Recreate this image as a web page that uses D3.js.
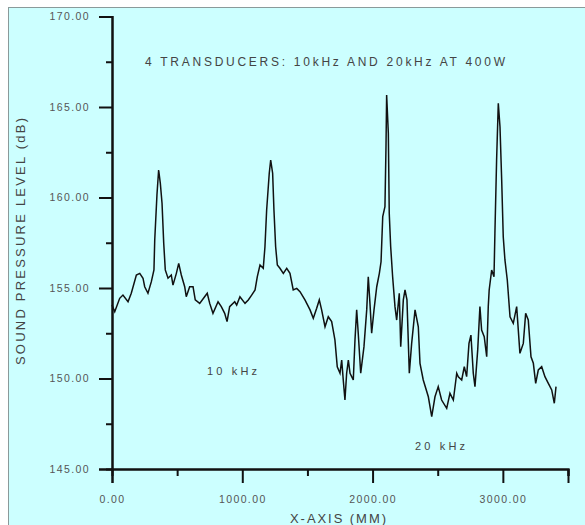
<!DOCTYPE html>
<html>
<head>
<meta charset="utf-8">
<script src="https://cdn.jsdelivr.net/npm/d3@7"></script>
<style>
  body { margin: 0; background: #fff; overflow: hidden; }
  svg { display: block; }
  text { font-family: "Liberation Sans", Arial, sans-serif; }
</style>
</head>
<body>
<div class="container"></div>
<script>
let width = 585
let height = 525
let margin = { left: 112, right: 17, top: 16.5, bottom: 56 }

// position along the x axis (mm)
const xPos = [0, 21, 59, 84, 123, 148, 187, 213, 238, 251, 276, 302, 322, 328, 345, 358, 371, 384, 397, 409,
  430, 455, 468, 494, 512, 532, 558, 570, 596, 622, 639, 673, 711, 731, 750, 775, 814, 839, 865, 883,
  903, 942, 957, 982, 1021, 1046, 1072, 1098, 1115, 1136, 1161, 1174, 1187, 1207, 1218, 1233, 1243, 1256, 1269, 1289,
  1315, 1341, 1366, 1391, 1418, 1443, 1481, 1520, 1545, 1571, 1591, 1609, 1635, 1660, 1686, 1711, 1729, 1750, 1763, 1775,
  1788, 1801, 1814, 1827, 1852, 1865, 1878, 1890, 1909, 1934, 1955, 1967, 1980, 1993, 2011, 2032, 2052, 2065, 2078, 2095,
  2103, 2108, 2121, 2128, 2139, 2154, 2172, 2185, 2205, 2216, 2236, 2249, 2264, 2282, 2300, 2326, 2351, 2364, 2389, 2428,
  2454, 2479, 2504, 2530, 2569, 2594, 2620, 2646, 2658, 2684, 2704, 2722, 2740, 2755, 2773, 2786, 2807, 2824, 2837, 2857,
  2876, 2888, 2895, 2914, 2932, 2939, 2952, 2965, 2978, 2991, 3003, 3016, 3034, 3055, 3080, 3106, 3131, 3157, 3175, 3195,
  3216, 3234, 3252, 3272, 3298, 3323, 3349, 3375, 3395, 3408]

// sound pressure level (dB)
const spl = [154.06, 153.69, 154.43, 154.61, 154.24, 154.71, 155.72, 155.81, 155.54, 155.07, 154.71, 155.35, 156.00, 157.65, 160.14, 161.52, 160.78, 159.68, 157.47, 156.00,
  155.54, 155.72, 155.16, 155.81, 156.36, 155.72, 155.07, 154.52, 155.07, 155.07, 154.34, 154.15, 154.52, 154.71, 154.15, 153.60, 154.24, 153.97, 153.60, 153.14,
  153.97, 154.24, 154.06, 154.52, 154.15, 154.34, 154.61, 154.89, 155.62, 156.27, 156.09, 157.28, 159.31, 161.34, 162.07, 161.34, 159.31, 157.28, 156.27, 156.09,
  155.81, 156.09, 155.81, 154.89, 154.98, 154.80, 154.34, 153.79, 153.33, 153.88, 154.34, 153.79, 152.86, 153.41, 153.14, 152.13, 150.65, 150.29, 151.02, 149.92,
  148.81, 150.29, 151.02, 150.29, 149.92, 152.13, 153.79, 152.50, 150.29, 151.76, 153.79, 155.62, 154.15, 152.50, 153.79, 155.07, 155.81, 156.45, 158.94, 159.49,
  162.81, 165.66, 163.55, 159.13, 157.28, 155.62, 153.97, 153.23, 154.71, 151.76, 154.34, 154.89, 154.34, 150.29, 151.94, 153.79, 152.86, 150.84, 149.92, 148.99,
  147.89, 148.99, 149.55, 148.81, 148.35, 149.18, 148.81, 150.29, 150.10, 149.92, 150.65, 150.10, 151.94, 152.40, 150.29, 149.55, 151.58, 153.97, 152.68, 152.31,
  151.20, 153.97, 154.89, 155.99, 155.62, 158.02, 162.07, 165.20, 163.91, 160.97, 157.83, 156.55, 155.44, 153.41, 153.05, 153.97, 151.39, 151.94, 153.60, 153.23,
  151.20, 150.84, 149.73, 150.47, 150.65, 150.10, 149.73, 149.37, 148.63, 149.55]

const xMajor = [0, 1000, 2000, 3000]
const xMinor = [500, 1500, 2500, 3500]
const yMajor = [145, 150, 155, 160, 165, 170]
const yMinor = [147.5, 152.5, 157.5, 162.5, 167.5]

let data = xPos.map((x, i) => ({ x: x, y: spl[i] }))

let svg = d3.select('.container')
    .append('svg')
    .attr('width', width)
    .attr('height', height)

// panel background
svg.append('rect')
    .attr('x', 8.5)
    .attr('y', 7.5)
    .attr('width', 700)
    .attr('height', 700)
    .attr('fill', '#ccffff')
    .attr('stroke', '#8a9a9a')

let xScale = d3.scaleLinear()
    .domain([0, 3500])
    .range([margin.left, width - margin.right])

let yScale = d3.scaleLinear()
    .domain([145, 170])
    .range([height - margin.bottom, margin.top])

let fmt = d3.format('.2f')

// x axis: major ticks with labels, minor without
svg.append('g')
    .attr('transform', `translate(0,${yScale(145)})`)
    .call(d3.axisBottom(xScale).tickValues(xMinor).tickSize(7).tickFormat(''))
svg.append('g')
    .attr('class', 'x axis')
    .attr('transform', `translate(0,${yScale(145)})`)
    .call(d3.axisBottom(xScale).tickValues(xMajor).tickSize(14).tickPadding(13).tickFormat(fmt))

// y axis
svg.append('g')
    .attr('transform', `translate(${margin.left},0)`)
    .call(d3.axisLeft(yScale).tickValues(yMinor).tickSize(6).tickFormat(''))
svg.append('g')
    .attr('class', 'y axis')
    .attr('transform', `translate(${margin.left},0)`)
    .call(d3.axisLeft(yScale).tickValues(yMajor).tickSize(13).tickPadding(9).tickFormat(fmt))

svg.selectAll('.domain')
    .attr('stroke', '#111')
    .attr('stroke-width', 2)
svg.selectAll('.tick line')
    .attr('stroke', '#111')
    .attr('stroke-width', 2)
svg.selectAll('.tick text')
    .attr('fill', '#555')
    .style('font-size', '10.5px')
    .style('letter-spacing', '1.4px')

// the measured curve
let line = d3.line()
    .x((d) => xScale(d.x))
    .y((d) => yScale(d.y))

svg.append('path')
    .datum(data)
    .attr('d', line)
    .attr('fill', 'none')
    .attr('stroke', '#111')
    .attr('stroke-width', 1.5)
    .attr('stroke-linejoin', 'miter')

// texts
svg.append('text')
    .attr('x', 145)
    .attr('y', 66)
    .attr('textLength', 360)
    .attr('lengthAdjust', 'spacing')
    .attr('fill', '#444')
    .style('font-size', '12px')
    .text('4 TRANSDUCERS: 10kHz AND 20kHz AT 400W')

svg.append('text')
    .attr('x', 207)
    .attr('y', 375)
    .attr('textLength', 50)
    .attr('lengthAdjust', 'spacing')
    .attr('fill', '#444')
    .style('font-size', '11px')
    .text('10 kHz')

svg.append('text')
    .attr('x', 415)
    .attr('y', 450)
    .attr('textLength', 50)
    .attr('lengthAdjust', 'spacing')
    .attr('fill', '#444')
    .style('font-size', '11px')
    .text('20 kHz')

svg.append('text')
    .attr('x', 290)
    .attr('y', 523)
    .attr('textLength', 96)
    .attr('lengthAdjust', 'spacing')
    .attr('fill', '#444')
    .style('font-size', '13px')
    .text('X-AXIS  (MM)')

svg.append('text')
    .attr('transform', 'translate(25,365) rotate(-90)')
    .attr('textLength', 247)
    .attr('lengthAdjust', 'spacing')
    .attr('fill', '#444')
    .style('font-size', '13px')
    .text('SOUND PRESSURE LEVEL (dB)')
</script>
</body>
</html>
